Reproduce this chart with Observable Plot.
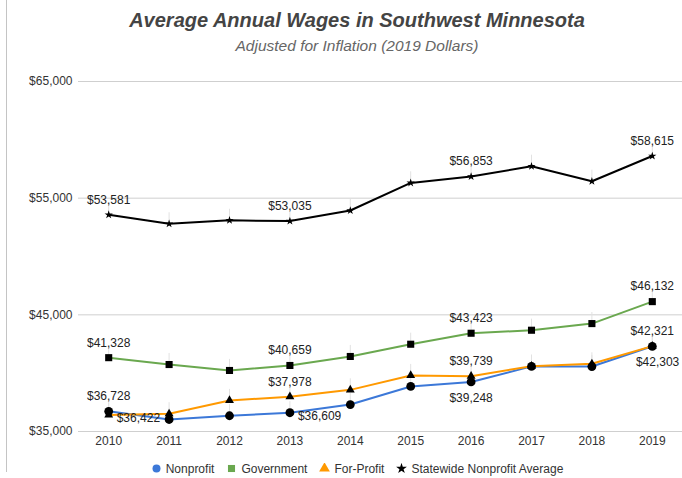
<!DOCTYPE html>
<html>
<head>
<meta charset="utf-8">
<script src="https://cdn.jsdelivr.net/npm/d3@7"></script>
<script src="https://cdn.jsdelivr.net/npm/@observablehq/plot@0.6"></script>
<style>
  body { margin: 0; background: #fff; font-family: "Liberation Sans", Arial, sans-serif; }
  #wrap { position: relative; width: 682px; height: 478px; overflow: hidden; }
  #border { position: absolute; left: 6px; top: 0; width: 1px; height: 472px; background: #c4c4c4; }
  #title { position: absolute; left: 0; top: 8px; width: 714px; text-align: center; font-size: 20px; line-height: 24px; font-weight: bold; font-style: italic; color: #444; }
  #subtitle { position: absolute; left: 0; top: 36px; width: 714px; text-align: center; font-size: 15.5px; line-height: 20px; font-style: italic; color: #666; }
  #chart { position: absolute; left: 0; top: 60px; }
  #legend { position: absolute; left: 0; top: 460px; width: 714px; text-align: center; font-size: 12px; line-height: 18px; color: #333; white-space: nowrap; }
  #legend span.item { margin: 0 6px; }
  #legend svg { vertical-align: -1px; margin-right: 4px; }
</style>
</head>
<body>
<div id="wrap">
  <div id="border"></div>
  <div id="title">Average Annual Wages in Southwest Minnesota</div>
  <div id="subtitle">Adjusted for Inflation (2019 Dollars)</div>
  <div id="chart"></div>
  <div id="legend"></div>
</div>
<script>
const years = [2010, 2011, 2012, 2013, 2014, 2015, 2016, 2017, 2018, 2019];
const nonprofit  = [36728, 36030, 36350, 36609, 37310, 38860, 39248, 40580, 40570, 42303];
const government = [41328, 40740, 40230, 40659, 41430, 42480, 43423, 43680, 44250, 46132];
const forProfit  = [36422, 36520, 37660, 37978, 38570, 39800, 39739, 40600, 40800, 42321];
const statewide  = [53581, 52800, 53100, 53035, 53940, 56310, 56853, 57735, 56450, 58615];
const seriesNames = ["Nonprofit", "Government", "For-Profit", "Statewide Nonprofit Average"];
const yTicks = [35000, 45000, 55000, 65000];

const colors = {"Nonprofit": "#3c78d8", "Government": "#6aa84f", "For-Profit": "#ff9900", "Statewide Nonprofit Average": "#000000"};
const symbols = {"Nonprofit": "circle", "Government": "square", "For-Profit": "triangle", "Statewide Nonprofit Average": "star"};
const radii = {"Nonprofit": 4.4, "Government": 4.0, "For-Profit": 3.3, "Statewide Nonprofit Average": 2.6};

const seriesValues = [nonprofit, government, forProfit, statewide];
const data = [];
seriesNames.forEach((s, i) => years.forEach((y, j) => data.push({series: s, year: y, value: seriesValues[i][j]})));

// which points carry a data label, and where
const labelAbove = [
  ["Statewide Nonprofit Average", [2010, 2013, 2016, 2019]],
  ["Government", [2010, 2013, 2016, 2019]],
  ["For-Profit", [2013, 2016, 2019]],
  ["Nonprofit", [2010]]
];
const labelBelow = [["Nonprofit", [2016]]];
const labelBelowEnd = [["Nonprofit", [2019]]];
const labelRight = [["For-Profit", [2010]], ["Nonprofit", [2013]]];
const pick = (spec) => data.filter(d => spec.some(([s, ys]) => s === d.series && ys.includes(d.year)));

const fmt = d3.format("$,");
const txt = {fontSize: 12, fill: "#222", fontFamily: "Liberation Sans, Arial, sans-serif"};

const dotOrder = ["Statewide Nonprofit Average", "Government", "For-Profit", "Nonprofit"];
const dotMarks = dotOrder.map(s => Plot.dot(data.filter(d => d.series === s), {
  x: "year", y: "value", symbol: () => symbols[s], r: radii[s], fill: "#000", stroke: "none"
}));

const chart = Plot.plot({
  width: 682,
  height: 401,
  marginLeft: 78,
  marginRight: 0,
  marginTop: 21,
  marginBottom: 30,
  style: {fontFamily: "Liberation Sans, Arial, sans-serif", fontSize: "12px", color: "#333", background: "transparent", overflow: "visible"},
  x: {domain: [2009.5, 2019.5]},
  y: {domain: [35000, 65000]},
  symbol: {type: "identity"},
  marks: [
    Plot.ruleY(yTicks, {stroke: "#cfcfcf", strokeWidth: 1}),
    Plot.axisY({ticks: yTicks, tickFormat: fmt, tickSize: 0, tickPadding: 6, label: null, fontSize: 12, fill: "#333"}),
    Plot.axisX({ticks: years, tickFormat: d => String(d), tickSize: 0, tickPadding: 5, label: null, fontSize: 12, fill: "#333"}),
    Plot.ruleX(data, {x: "year", y1: "value", y2: d => d.value + 950, stroke: "#e2e2e2", strokeWidth: 1}),
    ...["Nonprofit", "Government", "For-Profit", "Statewide Nonprofit Average"].map(s =>
      Plot.line(data.filter(d => d.series === s), {x: "year", y: "value", stroke: colors[s], strokeWidth: 2})),
    ...dotMarks,
    Plot.text(pick(labelAbove), {x: "year", y: "value", text: d => fmt(d.value), dy: -15, ...txt}),
    Plot.text(pick(labelBelow), {x: "year", y: "value", text: d => fmt(d.value), dy: 16, ...txt}),
    Plot.text(pick(labelBelowEnd), {x: "year", y: "value", text: d => fmt(d.value), dx: 27, dy: 16, textAnchor: "end", ...txt}),
    Plot.text(pick(labelRight), {x: "year", y: "value", text: d => fmt(d.value), dx: 8, dy: 3, textAnchor: "start", ...txt})
  ]
});
document.getElementById("chart").appendChild(chart);

// legend
const legend = document.getElementById("legend");
const symPath = (s) => d3.symbol(d3["symbol" + s[0].toUpperCase() + s.slice(1)], s === "star" ? 36 : 50)();
seriesNames.forEach(s => {
  const item = document.createElement("span");
  item.className = "item";
  item.innerHTML = `<svg width="11" height="11" viewBox="-5.5 -5.5 11 11"><path d="${symPath(symbols[s])}" fill="${colors[s]}"></path></svg>${s}`;
  legend.appendChild(item);
});
</script>
</body>
</html>
